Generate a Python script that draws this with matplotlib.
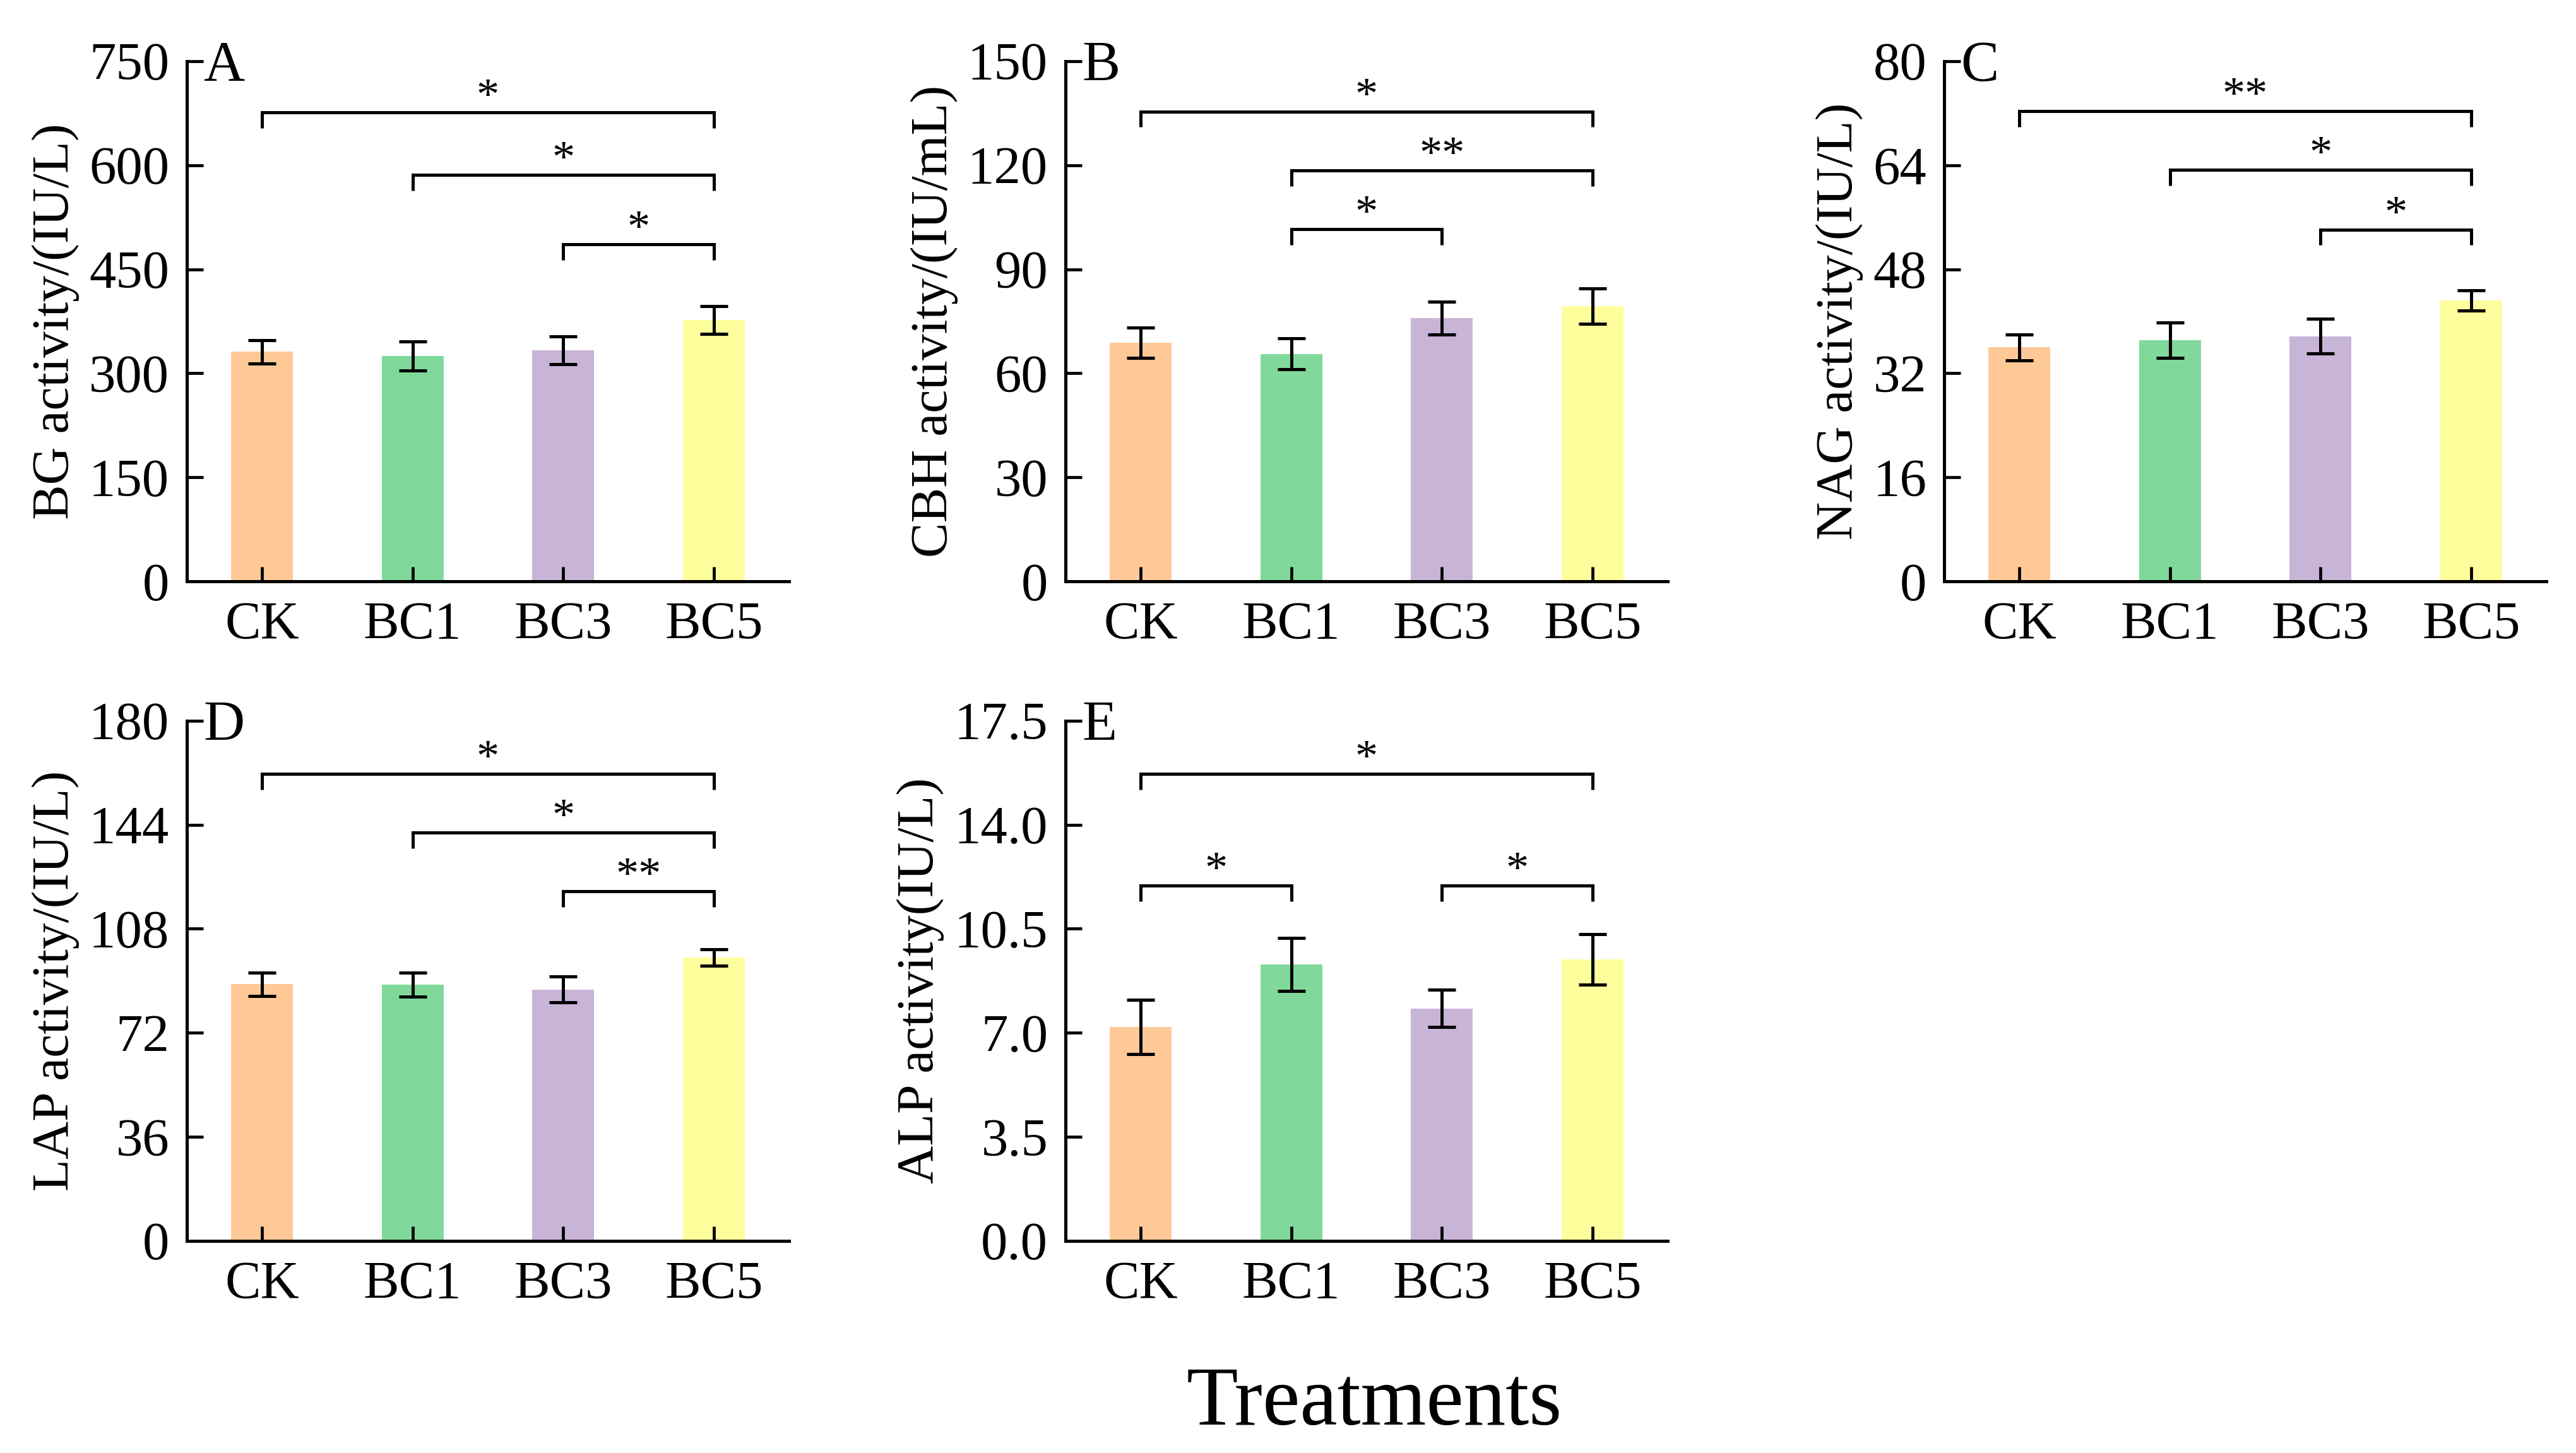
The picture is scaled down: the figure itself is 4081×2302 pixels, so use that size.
import matplotlib
matplotlib.use('Agg')
import matplotlib.pyplot as plt
import numpy as np

plt.rcParams['font.family'] = ['Liberation Serif', 'DejaVu Serif']

categories = ['CK', 'BC1', 'BC3', 'BC5']
colors = ['#FFC997', '#80D99B', '#C8B4D7', '#FFFE9C']

bg_mean = [331, 325, 333, 377]
bg_err = [17, 21, 20, 20]
cbh_mean = [68.8, 65.6, 75.9, 79.4]
cbh_err = [4.4, 4.4, 4.8, 5.1]
nag_mean = [36.0, 37.1, 37.7, 43.2]
nag_err = [2.0, 2.7, 2.65, 1.6]
lap_mean = [88.8, 88.7, 87.0, 98.0]
lap_err = [4.0, 4.1, 4.4, 2.8]
alp_mean = [7.20, 9.30, 7.82, 9.47]
alp_err = [0.92, 0.90, 0.63, 0.84]

# significance brackets: (from index, to index, height, label)
bg_sig = [(0, 3, 676, '*'), (1, 3, 586, '*'), (2, 3, 486, '*')]
cbh_sig = [(0, 3, 135.5, '*'), (1, 3, 118.5, '**'), (1, 2, 101.5, '*')]
nag_sig = [(0, 3, 72.3, '**'), (1, 3, 63.3, '*'), (2, 3, 54.1, '*')]
lap_sig = [(0, 3, 161.6, '*'), (1, 3, 141.3, '*'), (2, 3, 121.0, '**')]
alp_sig = [(0, 3, 15.71, '*'), (0, 1, 11.95, '*'), (2, 3, 11.95, '*')]

bg_ticks = [0, 150, 300, 450, 600, 750]
cbh_ticks = [0, 30, 60, 90, 120, 150]
nag_ticks = [0, 16, 32, 48, 64, 80]
lap_ticks = [0, 36, 72, 108, 144, 180]
alp_ticks = [0.0, 3.5, 7.0, 10.5, 14.0, 17.5]

panels = [
    ('A', 'BG activity/(IU/L)', bg_mean, bg_err, bg_ticks, bg_sig, '{:.0f}'),
    ('B', 'CBH activity/(IU/mL)', cbh_mean, cbh_err, cbh_ticks, cbh_sig, '{:.0f}'),
    ('C', 'NAG activity/(IU/L)', nag_mean, nag_err, nag_ticks, nag_sig, '{:.0f}'),
    ('D', 'LAP activity/(IU/L)', lap_mean, lap_err, lap_ticks, lap_sig, '{:.0f}'),
    ('E', 'ALP activity(IU/L)', alp_mean, alp_err, alp_ticks, alp_sig, '{:.1f}'),
]

W, H = 4081, 2302
fig = plt.figure(figsize=(W / 100, H / 100), dpi=100)

lefts = [0.0725, 0.4136, 0.7547, 0.0725, 0.4136]
bottoms = [0.5999, 0.5999, 0.5999, 0.1460, 0.1460]
width = 0.2338
height = 0.358

for k, (letter, ylab, mean, err, ticks, sig, fmt) in enumerate(panels):
    ax = fig.add_axes([lefts[k], bottoms[k], width, height])
    x = np.arange(len(categories))
    ax.bar(x, mean, width=0.41, color=colors, zorder=1)
    eb = ax.errorbar(x, mean, yerr=err, fmt='none', ecolor='black',
                     elinewidth=3.6, capsize=16, capthick=3.6, zorder=3)
    for lc in eb[2]:
        lc.set_capstyle('round')
    ymax = ticks[-1]
    ax.set_xlim(-0.5, 3.5)
    ax.set_ylim(0, ymax)
    ax.set_xticks(x)
    ax.set_xticklabels(categories)
    ax.set_yticks(ticks)
    ax.set_yticklabels([fmt.format(t) for t in ticks])
    for s in ['top', 'right']:
        ax.spines[s].set_visible(False)
    for s in ['left', 'bottom']:
        ax.spines[s].set_linewidth(3.6)
    ax.tick_params(axis='x', direction='in', length=16.5, width=3.4, pad=23,
                   labelsize=61)
    ax.tick_params(axis='y', direction='in', length=19, width=3.4, pad=20,
                   labelsize=61)
    ax.set_ylabel(ylab, fontsize=60, labelpad=11)
    ax.text(0.028, 0.962, letter, transform=ax.transAxes, ha='left',
            va='baseline', fontsize=65)
    drop = 0.03 * ymax
    for (i, j, yb, lab) in sig:
        ax.plot([x[i], x[i], x[j], x[j]], [yb - drop, yb, yb, yb - drop],
                color='black', lw=3.6, solid_joinstyle='miter',
                solid_capstyle='butt', zorder=3)
        ax.annotate(lab, xy=((x[i] + x[j]) / 2, yb), xytext=(0, 3.6),
                    textcoords='offset points', ha='center', va='baseline',
                    fontsize=52)

fig.text(0.5336, 0.0195, 'Treatments', ha='center', va='baseline', fontsize=96)

fig.savefig('out.png', dpi=100)
